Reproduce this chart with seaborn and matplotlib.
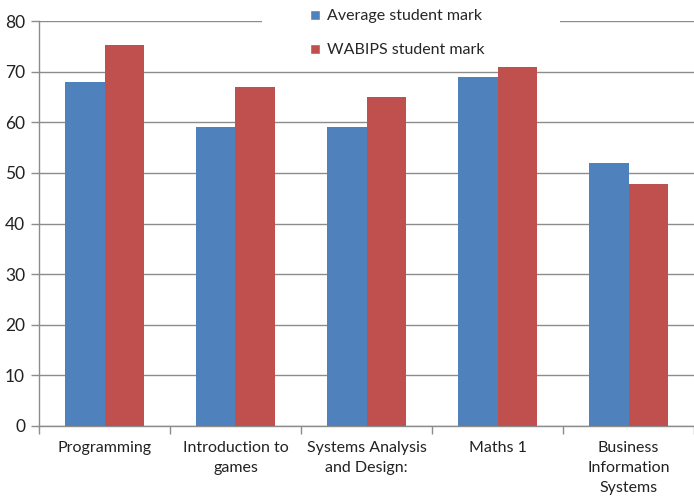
import matplotlib
matplotlib.use("Agg")
import matplotlib.pyplot as plt
from matplotlib.patches import Rectangle
import numpy as np
import pandas as pd
import seaborn as sns

# Module names and marks
modules = ["Programming", "Introduction to\ngames", "Systems Analysis\nand Design:",
           "Maths 1", "Business\nInformation\nSystems"]
average_mark = [68, 59, 59, 69, 52]
wabips_mark = [75.3, 67, 65, 71, 47.8]
series_names = ["Average student mark", "WABIPS student mark"]
y_ticks = [0, 10, 20, 30, 40, 50, 60, 70, 80]

df = pd.DataFrame({
    "module": modules * 2,
    "mark": average_mark + wabips_mark,
    "series": [series_names[0]] * len(modules) + [series_names[1]] * len(modules),
})

sns.set_style("white")
plt.rcParams["font.family"] = ["Lato", "DejaVu Sans"]

fig = plt.figure(figsize=(6.94, 4.97), dpi=100)
ax = fig.add_axes([39 / 694, 1 - 426 / 497, 1 - 39 / 694, (426 - 21) / 497])

grid_col = "#8c8c8c"
sns.barplot(data=df, x="module", y="mark", hue="series", order=modules,
            hue_order=series_names, palette=["#4F81BD", "#C0504D"],
            width=0.6, gap=0, saturation=1, errorbar=None, ax=ax, zorder=3,
            legend=False, linewidth=0)

ax.set_xlim(-0.5, len(modules) - 0.5)
ax.set_ylim(0, 80)
ax.set_yticks(y_ticks)
ax.set_yticklabels([str(t) for t in y_ticks], fontsize=12.5, color="#222222")
ax.yaxis.grid(True, color=grid_col, linewidth=1)
ax.set_axisbelow(True)

# category boundaries carry the tick marks, centers carry the labels
ax.set_xticks(np.arange(len(modules) + 1) - 0.5)
ax.set_xticklabels([])
ax.set_xticks(np.arange(len(modules)), minor=True)
ax.set_xticklabels(modules, minor=True, fontsize=11.5, color="#222222",
                   linespacing=1.55, va="top")
ax.tick_params(axis="x", which="major", direction="out", length=6, width=1,
               color=grid_col, bottom=True)
ax.tick_params(axis="x", which="minor", length=0, pad=11)
ax.tick_params(axis="y", direction="out", length=6, width=1, color=grid_col,
               left=True, pad=4)
ax.set_xlabel("")
ax.set_ylabel("")

for side in ["top", "right"]:
    ax.spines[side].set_visible(False)
for side in ["left", "bottom"]:
    ax.spines[side].set_color(grid_col)
    ax.spines[side].set_linewidth(1)

# white backing behind the legend
fig.patches.append(Rectangle((262 / 694, 1 - 62 / 497), (560 - 262) / 694, 62 / 497,
                             transform=fig.transFigure, facecolor="white",
                             edgecolor="none", zorder=5))

handles = [Rectangle((0, 0), 1, 1, facecolor=c) for c in ["#4F81BD", "#C0504D"]]
leg = fig.legend(handles, series_names, loc="upper left",
                 bbox_to_anchor=(296 / 694, 1 + 5 / 497), frameon=False,
                 fontsize=11.5, handlelength=0.6, handleheight=0.6,
                 handletextpad=0.45, labelspacing=1.25)
leg.set_zorder(6)

fig.savefig("out.png", dpi=100, facecolor="white")
